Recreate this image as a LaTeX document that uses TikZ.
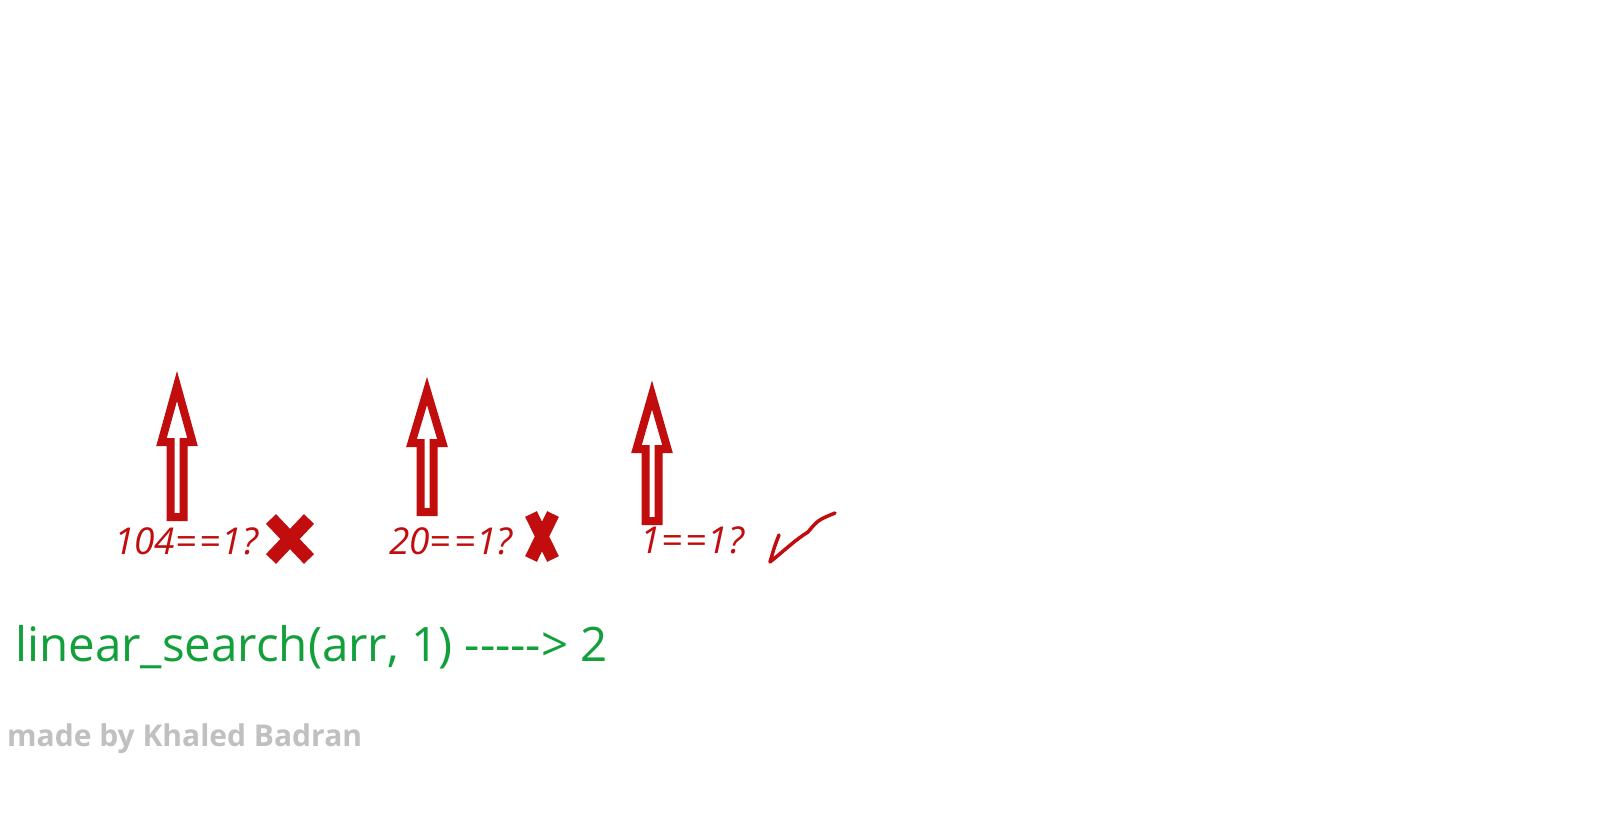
\documentclass[tikz,border=0pt]{standalone}
\usepackage{fontspec}
\setmainfont{Open Sans}
\definecolor{markred}{RGB}{193,13,14}
\definecolor{codegreen}{RGB}{18,160,58}
\definecolor{signgray}{RGB}{192,192,192}

\begin{document}
\begin{tikzpicture}[x=1pt,y=-1pt,
                    pointer/.style={draw=markred, fill=white, line width=8pt, miter limit=10},
                    test/.style={anchor=base west, text=markred, font=\itshape\fontsize{37}{40}\selectfont, inner sep=0pt},
                    cross/.style={draw=markred, line width=14pt},
                    tick/.style={draw=markred, line width=3.5pt, line cap=round, line join=round}]
  \useasboundingbox[fill=white] (0,0) rectangle (1600,835);

  % Arrows
  \foreach \cx/\tip/\base/\bot in {177/373/446/521, 427/378/447/516, 652/382/453/525}
    \draw[pointer] (\cx,\tip+13) -- (\cx+15.5,\base-4) -- (\cx+6.5,\base-4) -- (\cx+6.5,\bot-4)
                   -- (\cx-6.5,\bot-4) -- (\cx-6.5,\base-4) -- (\cx-15.5,\base-4) -- cycle;

  % Tests
  \node[test] (t1) at (114,554) {104=\kern3pt=\kern1pt1?};
  \node[test] (t2) at (389,554) {20=\kern3pt=\kern1pt1?};
  \node[test] (t3) at (640,553) {1\kern1pt=\kern3pt=\kern1pt1?};

  % Marks
  \draw[cross] (271,519) -- (309,559) (309,519) -- (271,559);
  \draw[cross, line width=13pt] (531,514) -- (553,559) (553,514) -- (531,559);
  \draw[tick] (779,535) .. controls (775,545) .. (770,562)
              .. controls (785,550) and (795,540) .. (808,532)
              .. controls (818,520) .. (835,513);

  % Result
  \node[anchor=base west, text=codegreen, font=\fontsize{47.5}{52}\selectfont, inner sep=0pt]
    (result) at (15,661) {linear\_search(arr, 1) {-}{-}{-}{-}{-}> 2};
  \node[anchor=base west, text=signgray, font=\bfseries\fontsize{30}{34}\selectfont, inner sep=0pt]
    (credit) at (7,746) {made by Khaled Badran};
\end{tikzpicture}
\end{document}
